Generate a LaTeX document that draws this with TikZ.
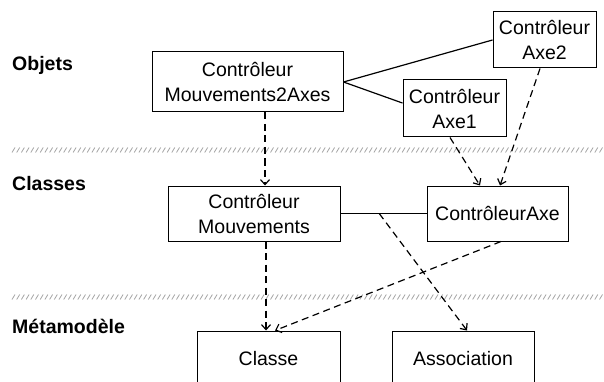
\documentclass[tikz,border=0pt]{standalone}
\usepackage{fontspec}
\setmainfont{Liberation Sans}
\usetikzlibrary{arrows.meta,calc}

\begin{document}
\begin{tikzpicture}[x=1pt, y=-1pt,
	box/.style={draw, line width=1pt, align=center, inner sep=0pt, font=\fontsize{19.5}{25}\selectfont},
	layer/.style={anchor=west, inner sep=0pt, font=\fontsize{19.5}{24}\selectfont\bfseries},
	dep/.style={dash pattern=on 7pt off 4.5pt, line width=1.2pt, -{Straight Barb[length=5pt,width=9pt]}},
	link/.style={line width=1.2pt},
	hatch/.style={gray!70, line width=0.8pt}]
	\useasboundingbox (0,0) rectangle (604,382);
	\clip (0,0) rectangle (604,382);
	\foreach \y in {150, 297}
		\foreach \x in {12,16.7,...,600}
			\draw[hatch] (\x,\y+2.5) -- ++(3,-5);
	\node[layer] (objets) at (12,65) {Objets};
	\node[layer] (classes) at (12,184) {Classes};
	\node[layer] (meta) at (12,326) {Métamodèle};
	\node[box, minimum width=191pt, minimum height=60pt] (m2a) at (247.5,82) {Contrôleur\\Mouvements2Axes};
	\node[box, minimum width=103pt, minimum height=56pt] (axe2) at (544.5,40) {Contrôleur\\Axe2};
	\node[box, minimum width=103pt, minimum height=57pt] (axe1) at (454.5,108.5) {Contrôleur\\Axe1};
	\node[box, minimum width=172pt, minimum height=55pt] (cm) at (254,213.5) {Contrôleur\\Mouvements};
	\node[box, minimum width=141pt, minimum height=55pt] (ca) at (497.5,213.5) {ContrôleurAxe};
	\node[box, minimum width=143pt, minimum height=55pt] (classe) at (268.5,358.5) {Classe};
	\node[box, minimum width=142pt, minimum height=55pt] (assoc) at (463,358.5) {Association};
	\draw[link] (m2a.east) -- (axe2.west);
	\draw[link] (m2a.east) -- (axe1.174);
	\draw[link] (cm.east) -- (ca.west);
	\coordinate (mid) at ($(cm.east)!0.45!(ca.west)$);
	\draw[dep] ([xshift=17.5pt]m2a.south) -- ([xshift=11pt]cm.north);
	\draw[dep] ([xshift=-4.5pt]axe1.south) -- ([xshift=-17.5pt]ca.north);
	\draw[dep] ([xshift=-4.5pt]axe2.south) -- ([xshift=2.5pt]ca.north);
	\draw[dep] (mid) -- ([xshift=4pt]assoc.north);
	\draw[dep] ([xshift=12pt]cm.south) -- ([xshift=-2.5pt]classe.north);
	\draw[dep] ([xshift=3.5pt]ca.south) -- ([xshift=6.5pt]classe.north);
\end{tikzpicture}
\end{document}
